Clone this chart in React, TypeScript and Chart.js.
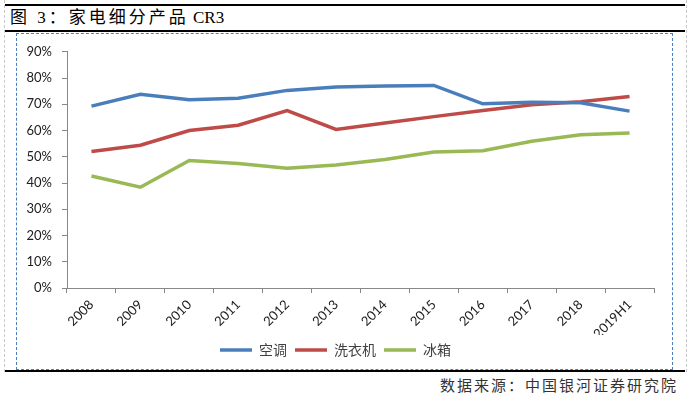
import React, { useEffect, useRef } from "react";
import { Chart, registerables } from "chart.js";

Chart.register(...registerables);

const categories = ["2008", "2009", "2010", "2011", "2012", "2013", "2014", "2015", "2016", "2017", "2018", "2019H1"];
const airConditioner = [69.3, 73.8, 71.7, 72.3, 75.3, 76.6, 77.0, 77.2, 70.2, 70.8, 70.6, 67.4];
const washingMachine = [52.0, 54.4, 60.0, 62.0, 67.6, 60.4, 62.9, 65.3, 67.6, 69.8, 71.0, 73.0];
const refrigerator = [42.7, 38.4, 48.6, 47.4, 45.6, 46.9, 49.0, 51.8, 52.3, 55.9, 58.4, 59.1];
const seriesNames = ["空调", "洗衣机", "冰箱"];
const yTicks = [0, 10, 20, 30, 40, 50, 60, 70, 80, 90];

const LATIN = "Lato, 'Noto Sans CJK SC', sans-serif";
const CJK = "'Noto Sans CJK SC', sans-serif";

export default function App() {
  const ref = useRef<HTMLCanvasElement | null>(null);

  useEffect(() => {
    document.body.style.margin = "0";
    const ctx = ref.current!;
    const chart = new Chart(ctx, {
      type: "line",
      data: {
        labels: categories,
        datasets: [
          { label: seriesNames[0], data: airConditioner, borderColor: "#4a7ebb", backgroundColor: "#4a7ebb", borderWidth: 3.5, pointRadius: 0, tension: 0 },
          { label: seriesNames[1], data: washingMachine, borderColor: "#be4b48", backgroundColor: "#be4b48", borderWidth: 3.5, pointRadius: 0, tension: 0 },
          { label: seriesNames[2], data: refrigerator, borderColor: "#98b954", backgroundColor: "#98b954", borderWidth: 3.5, pointRadius: 0, tension: 0 },
        ],
      },
      options: {
        animation: false,
        responsive: false,
        maintainAspectRatio: false,
        layout: { padding: { top: 13, right: 17, bottom: 1, left: 0 } },
        plugins: {
          tooltip: { enabled: false },
          legend: {
            position: "bottom",
            labels: {
              usePointStyle: true,
              pointStyle: "line",
              pointStyleWidth: 32,
              boxHeight: 14,
              padding: 8,
              color: "#404040",
              font: { family: CJK, size: 14 },
            },
          },
        },
        scales: {
          x: {
            type: "category",
            offset: true,
            grid: { display: true, drawOnChartArea: false, offset: true, tickLength: 5, color: "#888" },
            border: { color: "#888", width: 1 },
            ticks: {
              minRotation: 45,
              maxRotation: 45,
              autoSkip: false,
              padding: 4,
              color: "#202020",
              font: { family: LATIN, size: 13 },
            },
            afterFit: (s: any) => { s.height = 47; },
          },
          y: {
            min: 0,
            max: 90,
            afterBuildTicks: (s: any) => { s.ticks = yTicks.map((v) => ({ value: v })); },
            grid: { display: true, drawOnChartArea: false, tickLength: 5, color: "#888" },
            border: { color: "#888", width: 1 },
            ticks: {
              padding: 10,
              color: "#202020",
              font: { family: LATIN, size: 13 },
              callback: (v: any) => v + "%",
            },
            afterFit: (s: any) => { s.width = 50; },
          },
        },
      },
    });
    return () => chart.destroy();
  }, []);

  const abs = (style: React.CSSProperties): React.CSSProperties => ({ position: "absolute", ...style });

  return (
    <div style={{ position: "relative", width: 693, height: 397, background: "#fff", overflow: "hidden" }}>
      <div style={abs({ left: 4, top: 0, width: 0, height: 372, borderLeft: "1px dashed #c8c8c8" })} />
      <div style={abs({ left: 686, top: 0, width: 0, height: 372, borderLeft: "1px dashed #c8c8c8" })} />
      <div style={abs({ left: 5, top: 4, width: 680, height: 2, background: "#000" })} />
      <div style={abs({ left: 10, top: 7, fontFamily: "'Liberation Serif', 'Noto Sans CJK SC', serif", fontSize: 17, lineHeight: "22px", color: "#000", whiteSpace: "nowrap" })}>
        <span style={{ letterSpacing: 3 }}>图 3：家电细分产品</span> CR3
      </div>
      <div style={abs({ left: 5, top: 30, width: 680, height: 2, background: "#000" })} />
      <div style={abs({ left: 16, top: 33, width: 655, height: 335, border: "1px dashed #4a7ebb" })} />
      <canvas ref={ref} width={654} height={334} style={abs({ left: 17, top: 34, width: 654, height: 334 })} />
      <div style={abs({ left: 5, top: 370, width: 680, height: 2, background: "#000" })} />
      <div style={abs({ right: 15, top: 375, fontFamily: CJK, fontSize: 15, letterSpacing: 2, lineHeight: "20px", color: "#333", whiteSpace: "nowrap" })}>
        数据来源：中国银河证券研究院
      </div>
    </div>
  );
}
